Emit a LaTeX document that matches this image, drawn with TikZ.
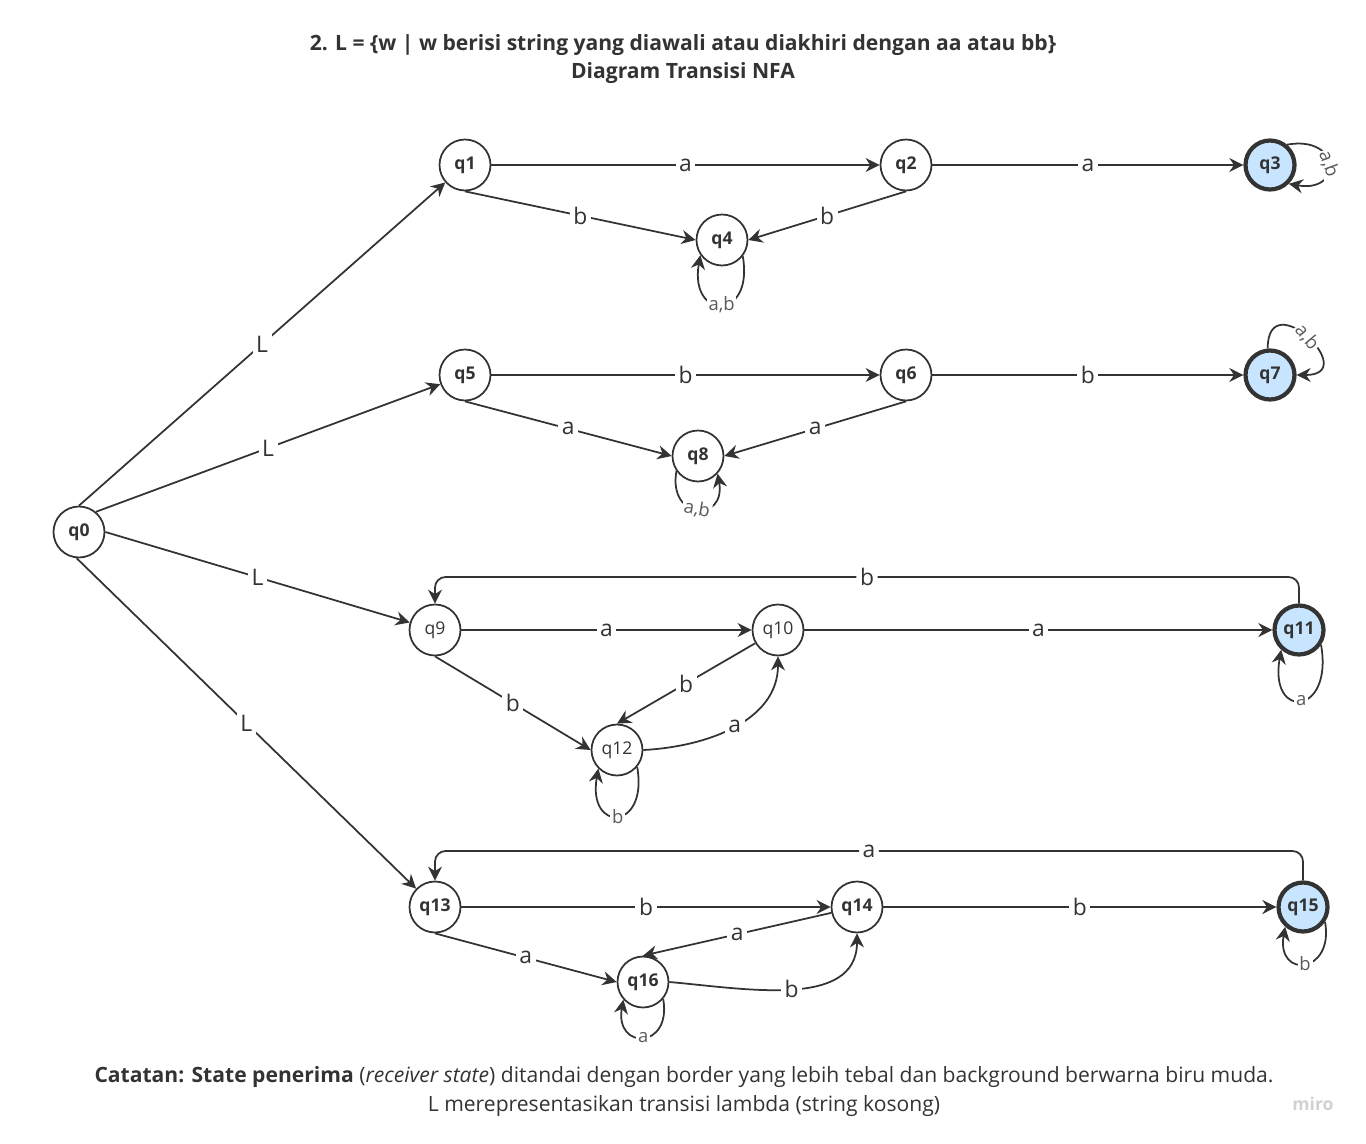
\documentclass[tikz,border=0pt]{standalone}
\usepackage{fontspec}
\setmainfont{Open Sans}
\usetikzlibrary{arrows.meta}
\definecolor{linegray}{RGB}{51,51,51}
\definecolor{labelgray}{RGB}{90,90,90}
\definecolor{acceptblue}{RGB}{199,229,255}

\begin{document}
\begin{tikzpicture}[x=0.02cm, y=0.02cm, >={Stealth[length=8pt,width=8pt]},
    state/.style={circle, draw=linegray, line width=1pt, fill=white, minimum size=1.02cm, inner sep=0pt, text=linegray, font=\fontsize{10}{12}\selectfont\bfseries},
    lightstate/.style={state, font=\fontsize{10}{12}\selectfont},
    accept/.style={state, line width=2.4pt, fill=acceptblue, minimum size=0.98cm},
    trans/.style={->, draw=linegray, line width=1pt},
    lbl/.style={fill=white, inner sep=2pt, text=linegray, font=\fontsize{13}{15}\selectfont},
    looplbl/.style={fill=white, inner sep=1pt, text=labelgray, font=\fontsize{10.5}{12}\selectfont},
    loopdown/.style={trans, out=-80, in=-100, looseness=4}]
    \useasboundingbox (0,0) rectangle (1366,-1143);

    % judul
    \node[font=\fontsize{12}{14}\selectfont\bfseries, text=linegray] (title) at (683,-45) {2. L = \{w | w berisi string yang diawali atau diakhiri dengan aa atau bb\}};
    \node[font=\fontsize{12}{14}\selectfont\bfseries, text=linegray] (subtitle) at (683,-73) {Diagram Transisi NFA};

    % state
    \node[state] (q0) at (79,-532) {q0};
    \node[state] (q1) at (465,-165) {q1};
    \node[state] (q2) at (906,-165) {q2};
    \node[accept] (q3) at (1270,-165) {q3};
    \node[state] (q4) at (722,-240) {q4};
    \node[state] (q5) at (465,-375) {q5};
    \node[state] (q6) at (906,-375) {q6};
    \node[accept] (q7) at (1270,-375) {q7};
    \node[state] (q8) at (698,-456) {q8};
    \node[lightstate] (q9) at (435,-630) {q9};
    \node[lightstate] (q10) at (778,-630) {q10};
    \node[accept] (q11) at (1299,-630) {q11};
    \node[lightstate] (q12) at (617,-750) {q12};
    \node[state] (q13) at (435,-907) {q13};
    \node[state] (q14) at (857,-907) {q14};
    \node[accept] (q15) at (1303,-907) {q15};
    \node[state] (q16) at (643,-982) {q16};

    % transisi lambda
    \draw[trans] (q0.north) -- node[lbl]{L} (q1);
    \draw[trans] (q0.50) -- node[lbl]{L} (q5);
    \draw[trans] (q0.east) -- node[lbl]{L} (q9);
    \draw[trans] (q0.-95) -- node[lbl]{L} (q13);

    % aa di awal
    \draw[trans] (q1) -- node[lbl]{a} (q2);
    \draw[trans] (q2) -- node[lbl]{a} (q3);
    \draw[trans] (q1.south) -- node[lbl]{b} (q4.west);
    \draw[trans] (q2.south) -- node[lbl]{b} (q4.east);
    \draw[loopdown] (q4.-38) to node[looplbl]{a,b} (q4.-145);
    \draw[trans] (q3.50) to[out=10, in=-10, looseness=3.6] node[looplbl, rotate=-70]{a,b} (q3.-45);

    % bb di awal
    \draw[trans] (q5) -- node[lbl]{b} (q6);
    \draw[trans] (q6) -- node[lbl]{b} (q7);
    \draw[trans] (q5.south) -- node[lbl]{a} (q8.west);
    \draw[trans] (q6.south) -- node[lbl]{a} (q8.east);
    \draw[trans] (q8.-145) to[out=-100, in=-80, looseness=3.1] node[looplbl, rotate=-10]{a,b} (q8.-42);
    \draw[trans] (q7.95) to[out=90, in=0, looseness=4.3] node[looplbl, rotate=-50]{a,b} (q7.east);

    % aa di akhir
    \draw[trans] (q9) -- node[lbl]{a} (q10);
    \draw[trans] (q10) -- node[lbl]{a} (q11);
    \draw[trans, rounded corners=6pt] (q11.north) -- (1299,-577) -- node[lbl]{b} (435,-577) -- (q9.north);
    \draw[trans] (q9.south) -- node[lbl]{b} (q12.west);
    \draw[trans] (q10) -- node[lbl]{b} (q12.north);
    \draw[trans] (q12.east) to[out=3, in=-90] node[lbl]{a} (q10.south);
    \draw[loopdown, looseness=4.3] (q12.-40) to node[looplbl]{b} (q12.-135);
    \draw[loopdown, looseness=4.6] (q11.-34) to node[looplbl]{a} (q11.-132);

    % bb di akhir
    \draw[trans] (q13) -- node[lbl]{b} (q14);
    \draw[trans] (q14) -- node[lbl]{b} (q15);
    \draw[trans, rounded corners=6pt] (q15.north) -- (1303,-851) -- node[lbl]{a} (435,-851) -- (q13.north);
    \draw[trans] (q13.south) -- node[lbl]{a} (q16.west);
    \draw[trans] (q14) -- node[lbl]{a} (q16.north);
    \draw[trans] (q16.east) to[out=-5, in=-90] node[lbl]{b} (q14.south);
    \draw[loopdown, looseness=3.3] (q16.-40) to node[looplbl]{a} (q16.-138);
    \draw[loopdown, looseness=3.4] (q15.-34) to node[looplbl]{b} (q15.-132);

    % catatan
    \node[font=\fontsize{12}{14}\selectfont, text=linegray] (note1) at (684,-1077) {\textbf{Catatan: State penerima} (\textit{receiver state}) ditandai dengan border yang lebih tebal dan background berwarna biru muda.};
    \node[font=\fontsize{12}{14}\selectfont, text=linegray] (note2) at (684,-1106) {L merepresentasikan transisi lambda (string kosong)};
    \node[font=\fontsize{10}{12}\selectfont\bfseries, text=black!18] (miro) at (1313,-1104) {miro};
\end{tikzpicture}
\end{document}
